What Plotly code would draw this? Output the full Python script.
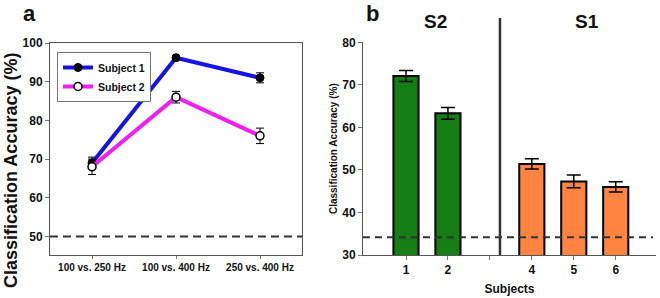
import plotly.graph_objects as go

# ---- Panel a data ----
conditions = ["100 vs. 250 Hz", "100 vs. 400 Hz", "250 vs. 400 Hz"]
subject1_acc = [69.0, 96.2, 91.0]
subject1_err = [1.5, 0.5, 1.3]
subject2_acc = [68.0, 86.0, 76.0]
subject2_err = [2.0, 1.5, 2.0]
chance_a = 50

# ---- Panel b data ----
s2_subjects = [1, 2]
s2_acc = [72.1, 63.3]
s2_err = [1.3, 1.4]
s1_subjects = [4, 5, 6]
s1_acc = [51.4, 47.3, 46.0]
s1_err = [1.2, 1.5, 1.2]
b_tickvals = [1, 2, 3, 4, 5, 6]
b_ticktext = ["1", "2", "", "4", "5", "6"]
chance_b = 34.2
divider_x = 3.24

FONT = "Liberation Sans, Arial, sans-serif"
W, H = 660, 298

def px_x(p):
    return p / W

def px_y(p):
    return 1 - p / H

def tf(size):
    return dict(family=FONT, size=size, color="#111", weight="bold")

fig = go.Figure()

# Panel a lines
fig.add_trace(go.Scatter(
    x=list(range(len(conditions))), y=subject1_acc, name="Subject 1",
    mode="lines+markers", line=dict(color="#1414e6", width=4),
    marker=dict(color="black", size=8, line=dict(color="black", width=1)),
    error_y=dict(type="data", array=subject1_err, color="black", thickness=1, width=4),
    xaxis="x", yaxis="y"))
fig.add_trace(go.Scatter(
    x=list(range(len(conditions))), y=subject2_acc, name="Subject 2",
    mode="lines+markers", line=dict(color="#f01ef0", width=4),
    marker=dict(color="white", size=8, line=dict(color="black", width=1.5)),
    error_y=dict(type="data", array=subject2_err, color="black", thickness=1, width=4),
    xaxis="x", yaxis="y"))

# Panel b bars
fig.add_trace(go.Bar(
    x=s2_subjects, y=s2_acc, width=0.6, showlegend=False,
    marker=dict(color="#147d14", line=dict(color="black", width=2)),
    error_y=dict(type="data", array=s2_err, color="black", thickness=1.5, width=7),
    xaxis="x2", yaxis="y2"))
fig.add_trace(go.Bar(
    x=s1_subjects, y=s1_acc, width=0.6, showlegend=False,
    marker=dict(color="#ff8442", line=dict(color="black", width=2)),
    error_y=dict(type="data", array=s1_err, color="black", thickness=1.5, width=7),
    xaxis="x2", yaxis="y2"))

def axis(**kw):
    base = dict(showgrid=False, zeroline=False, linecolor="#555", linewidth=1,
                ticks="outside", tickcolor="#777", ticklen=4, showline=True,
                tickfont=tf(12), automargin=False)
    base.update(kw)
    return base

fig.update_layout(
    width=W, height=H, margin=dict(l=0, r=0, t=0, b=0, autoexpand=False),
    paper_bgcolor="white", plot_bgcolor="white",
    font=dict(family=FONT, color="#111"),
    barmode="overlay",
    xaxis=axis(tickfont=tf(10), domain=[px_x(50), px_x(302)], range=[-0.5, 2.5],
               tickvals=[0, 1, 2], ticktext=conditions, mirror=True,
               anchor="y", ticklen=3),
    yaxis=axis(domain=[px_y(255), px_y(43)], range=[45.2, 100],
               tickvals=[50, 60, 70, 80, 90, 100], mirror=True, anchor="x"),
    xaxis2=axis(domain=[px_x(363), px_x(656)], range=[-0.025, 6.96],
                tickvals=b_tickvals, ticktext=b_ticktext, anchor="y2",
                title=dict(text="Subjects", font=tf(12), standoff=8)),
    yaxis2=axis(domain=[px_y(255), px_y(42.3)], range=[30, 80],
                tickvals=[30, 40, 50, 60, 70, 80], anchor="x2",
                title=dict(text="Classification Accuracy (%)", font=tf(10), standoff=2)),
    legend=dict(x=px_x(57), y=px_y(52), xanchor="left", yanchor="top",
                bordercolor="#777", borderwidth=1, bgcolor="white",
                font=tf(10.5), tracegroupgap=0, itemwidth=30),
)

# chance lines
fig.add_shape(type="line", xref="x domain", yref="y", x0=0, x1=1, y0=chance_a, y1=chance_a,
              line=dict(color="#333", width=2, dash="8px,5px"))
fig.add_shape(type="line", xref="x2 domain", yref="y2", x0=0, x1=0.99, y0=chance_b, y1=chance_b,
              line=dict(color="#333", width=2, dash="7px,5px"))
# divider
fig.add_shape(type="line", xref="x2", yref="paper", x0=divider_x, x1=divider_x,
              y0=px_y(255), y1=px_y(18), line=dict(color="#333", width=2.5))

# panel a y-axis title (placed below centre as in the reference)
fig.add_annotation(text="Classification Accuracy (%)", x=px_x(11), y=px_y(171),
                   xref="paper", yref="paper", xanchor="center", yanchor="middle",
                   textangle=-90, showarrow=False, font=tf(18))

# panel letters and group labels
fig.add_annotation(text="a", x=px_x(29), y=1, xref="paper", yref="paper",
                   xanchor="center", yanchor="top", showarrow=False, font=tf(22),
                   borderpad=0)
fig.add_annotation(text="b", x=px_x(372.5), y=1, xref="paper", yref="paper",
                   xanchor="center", yanchor="top", showarrow=False, font=tf(22),
                   borderpad=0)
for label, xp in [("S2", 435.5), ("S1", 587)]:
    fig.add_annotation(text=label, x=px_x(xp), y=px_y(21.5), xref="paper", yref="paper",
                       xanchor="center", yanchor="middle", showarrow=False, font=tf(19))

fig.write_html("out.html", config={"displayModeBar": False},
               post_script="document.body.style.margin='0px';document.body.style.padding='0px';")
